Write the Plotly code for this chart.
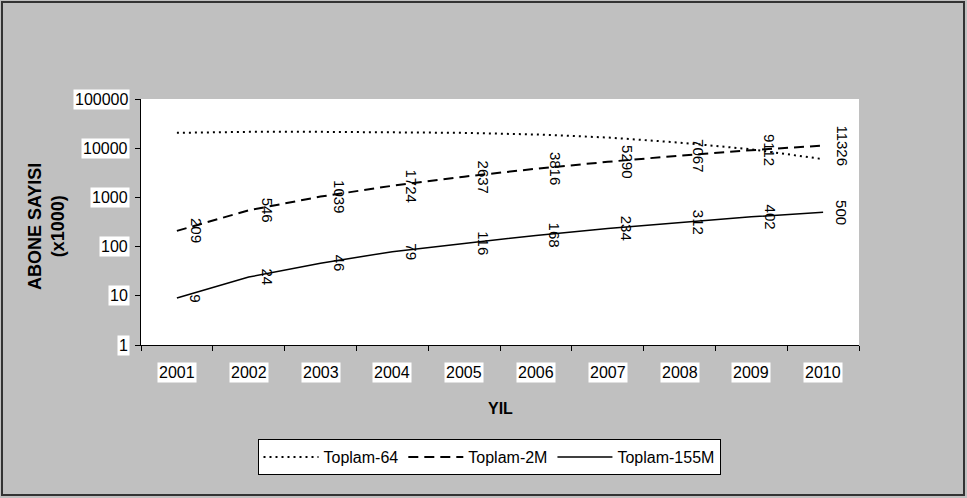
import numpy as np
import plotly.graph_objects as go

years = ["2001", "2002", "2003", "2004", "2005", "2006", "2007", "2008", "2009", "2010"]
toplam_64 = [20500, 21500, 21500, 21000, 20500, 19000, 16500, 13000, 9500, 6000]
toplam_2m = [209, 546, 1039, 1724, 2637, 3816, 5290, 7067, 9112, 11326]
toplam_155m = [9, 24, 46, 79, 116, 168, 234, 312, 402, 500]
y_ticks = [1, 10, 100, 1000, 10000, 100000]
y_tick_labels = ["1", "10", "100", "1000", "10000", "100000"]

W, H = 967, 498
L, R, T, B = 141, 859, 99, 345
FONT = "Liberation Sans, Arial, sans-serif"

def px2paper_x(px):
    return (px - L) / (R - L)

def px2paper_y(py):
    return (B - py) / (B - T)

fig = go.Figure()
fig.add_trace(go.Scatter(x=years, y=toplam_64, mode="lines", name="Toplam-64",
                         line=dict(color="black", width=2, dash="2px,4px")))
fig.add_trace(go.Scatter(x=years, y=toplam_2m, mode="lines", name="Toplam-2M",
                         line=dict(color="black", width=2, dash="10px,6px")))
fig.add_trace(go.Scatter(x=years, y=toplam_155m, mode="lines", name="Toplam-155M",
                         line=dict(color="black", width=1.5)))

annotations = []
for series in (toplam_2m, toplam_155m):
    for i, v in enumerate(series):
        annotations.append(dict(x=i, y=np.log10(v), xref="x", yref="y", text=str(v),
                                showarrow=False, textangle=90, xshift=19,
                                font=dict(family=FONT, size=15, color="black")))
for tv, tl in zip(y_ticks, y_tick_labels):
    annotations.append(dict(x=0, y=np.log10(tv), xref="paper", yref="y", text=tl,
                            showarrow=False, xanchor="right", xshift=-11,
                            bgcolor="white", borderpad=1,
                            font=dict(family=FONT, size=16, color="black")))
for i, yr in enumerate(years):
    annotations.append(dict(x=i, y=0, xref="x", yref="paper", text=yr,
                            showarrow=False, yanchor="top", yshift=-17,
                            bgcolor="white", borderpad=1,
                            font=dict(family=FONT, size=16, color="black")))
annotations.append(dict(x=px2paper_x(500), y=px2paper_y(408), xref="paper", yref="paper",
                        text="<b>YIL</b>", showarrow=False, xanchor="center", yanchor="middle",
                        font=dict(family=FONT, size=16, color="black")))
annotations.append(dict(x=px2paper_x(46), y=px2paper_y(227), xref="paper", yref="paper",
                        text="<b>ABONE SAYISI<br>(x1000)</b>", showarrow=False, textangle=-90,
                        xanchor="center", yanchor="middle",
                        font=dict(family=FONT, size=18, color="black")))

fig.update_layout(
    width=W, height=H,
    margin=dict(l=L, r=W - R, t=T, b=H - B, pad=0),
    paper_bgcolor="#C0C0C0",
    plot_bgcolor="white",
    font=dict(family=FONT, size=16, color="black"),
    showlegend=True,
    legend=dict(orientation="h", x=px2paper_x(489), xanchor="center",
                y=px2paper_y(439), yanchor="top",
                bgcolor="white", bordercolor="black", borderwidth=1,
                font=dict(family=FONT, size=16), itemwidth=55,
                tracegroupgap=0),
    annotations=annotations,
    shapes=[dict(type="rect", xref="paper", yref="paper",
                 x0=px2paper_x(2), x1=px2paper_x(964), y0=px2paper_y(2), y1=px2paper_y(495),
                 line=dict(color="#333333", width=2), fillcolor="rgba(0,0,0,0)", layer="below")],
)
fig.update_xaxes(type="category", range=[-0.5, len(years) - 0.5], autorange=False,
                 showline=True, linecolor="black", linewidth=1,
                 ticks="outside", ticklen=5, tickcolor="black", tickson="boundaries",
                 showgrid=False, showticklabels=False, zeroline=False)
fig.update_yaxes(type="log", range=[0, 5], autorange=False, showline=True, linecolor="black", linewidth=1,
                 ticks="outside", ticklen=5, tickcolor="black", tickvals=y_ticks,
                 showgrid=False, showticklabels=False, zeroline=False)

fig.write_html("out.html", config={"displayModeBar": False},
               post_script="document.body.style.margin='0';document.body.style.padding='0';")
